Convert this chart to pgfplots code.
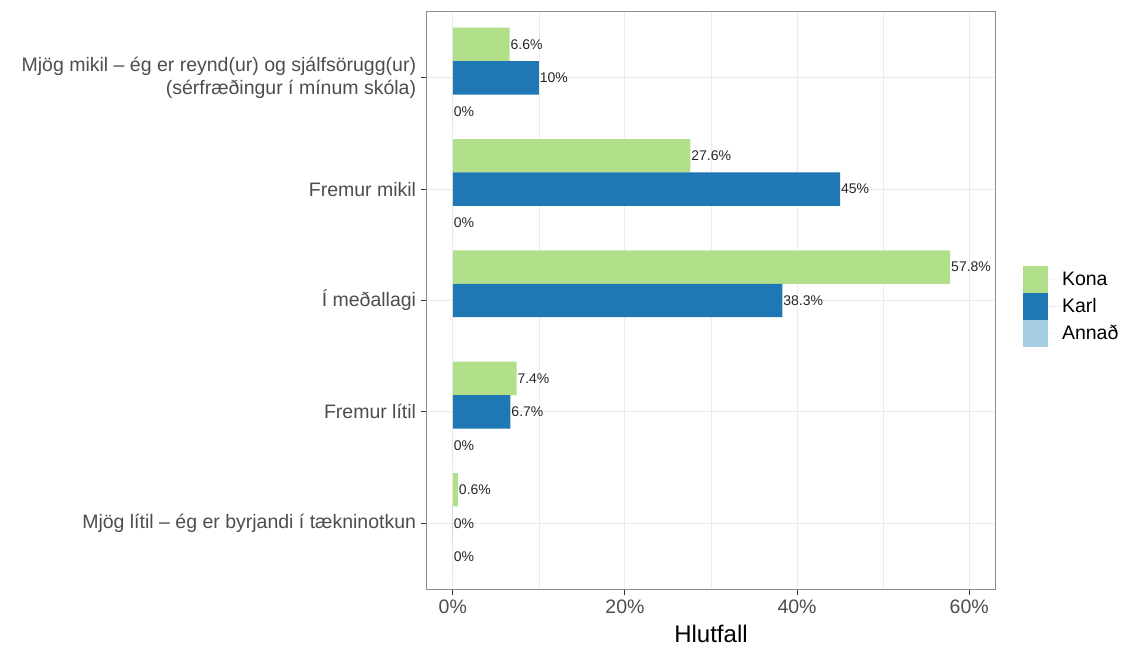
\documentclass[border=0pt]{standalone}
\usepackage{fontspec}
\setmainfont{Liberation Sans}
\usepackage{pgfplots}
\pgfplotsset{compat=1.18}
\usetikzlibrary{calc}
\definecolor{kona}{HTML}{B2DF8A}
\definecolor{karl}{HTML}{1F78B4}
\definecolor{annad}{HTML}{A6CEE3}
\definecolor{gridc}{HTML}{EBEBEB}
\definecolor{txt}{HTML}{4D4D4D}
% square legend keys with a gap before the text
\pgfplotsset{sqlegend/.style={legend image code/.code={
  \fill[##1] (0pt,-6.75pt) rectangle (12.5pt,6.75pt);
  \path (0pt,0pt) -- (19.5pt,0pt);}}}

\begin{document}
\begin{tikzpicture}
\begin{axis}[
  name=ax,
  scale only axis, width=284pt, height=289.5pt,
  xbar, bar width=0.3,
  xmin=-3, xmax=63, ymin=0.4, ymax=5.6,
  xtick={0,20,40,60}, xticklabels={0\%,20\%,40\%,60\%},
  minor xtick={10,30,50},
  ytick={1,2,3,4,5},
  yticklabels={
    {Mjög lítil – ég er byrjandi í tækninotkun},
    {Fremur lítil},
    {Í meðallagi},
    {Fremur mikil},
    {Mjög mikil – ég er reynd(ur) og sjálfsörugg(ur)\\(sérfræðingur í mínum skóla)}},
  xmajorgrids, xminorgrids, ymajorgrids,
  major grid style={gridc, line width=0.55pt},
  minor grid style={gridc, line width=0.3pt},
  axis line style={draw=black!45, line width=0.5pt},
  tick align=outside, major tick length=2.75pt, minor tick length=0pt,
  tick style={black!80, line width=0.5pt},
  xtick pos=lower, ytick pos=left,
  yticklabel style={font=\fontsize{9.75}{11.5}\selectfont, text=txt, align=right, inner sep=0pt, anchor=east, xshift=-2.5pt},
  xticklabel style={font=\fontsize{9.75}{11.5}\selectfont, text=txt, inner sep=0pt, anchor=north, yshift=-2pt},
  xlabel={Hlutfall},
  xlabel style={font=\fontsize{12}{14}\selectfont, text=black, at={(axis description cs:0.5,0)}, anchor=north, inner sep=0pt, yshift=-17.5pt},
  point meta=x,
  nodes near coords={\pgfmathprintnumber[assume math mode=true]{\pgfplotspointmeta}\%},
  nodes near coords style={font=\fontsize{7}{8}\selectfont, text=black!85, anchor=west, inner sep=0.3pt},
  legend style={at={(1.0493,0.4888)}, anchor=west, draw=none, fill=none, inner sep=0pt, outer sep=0pt,
    row sep=0pt, font=\fontsize{9.75}{11}\selectfont, text=black, cells={anchor=west},
    nodes={inner sep=0pt}},
  legend cell align=left,
]
\addplot[sqlegend, fill=kona, draw=none, bar shift=0.3]
  coordinates {(6.6,5) (27.6,4) (57.8,3) (7.4,2) (0.6,1)};
\addplot[sqlegend, fill=karl, draw=none, bar shift=0]
  coordinates {(10,5) (45,4) (38.3,3) (6.7,2) (0,1)};
\addplot[sqlegend, fill=annad, draw=none, bar shift=-0.3]
  coordinates {(0,5) (0,4) (0,2) (0,1)};
\legend{Kona, Karl, Annað}
\end{axis}
\pgfresetboundingbox
\path ($(ax.south west)+(-213.5pt,-28pt)$) rectangle ($(ax.north east)+(66.5pt,5.5pt)$);
\end{tikzpicture}
\end{document}
